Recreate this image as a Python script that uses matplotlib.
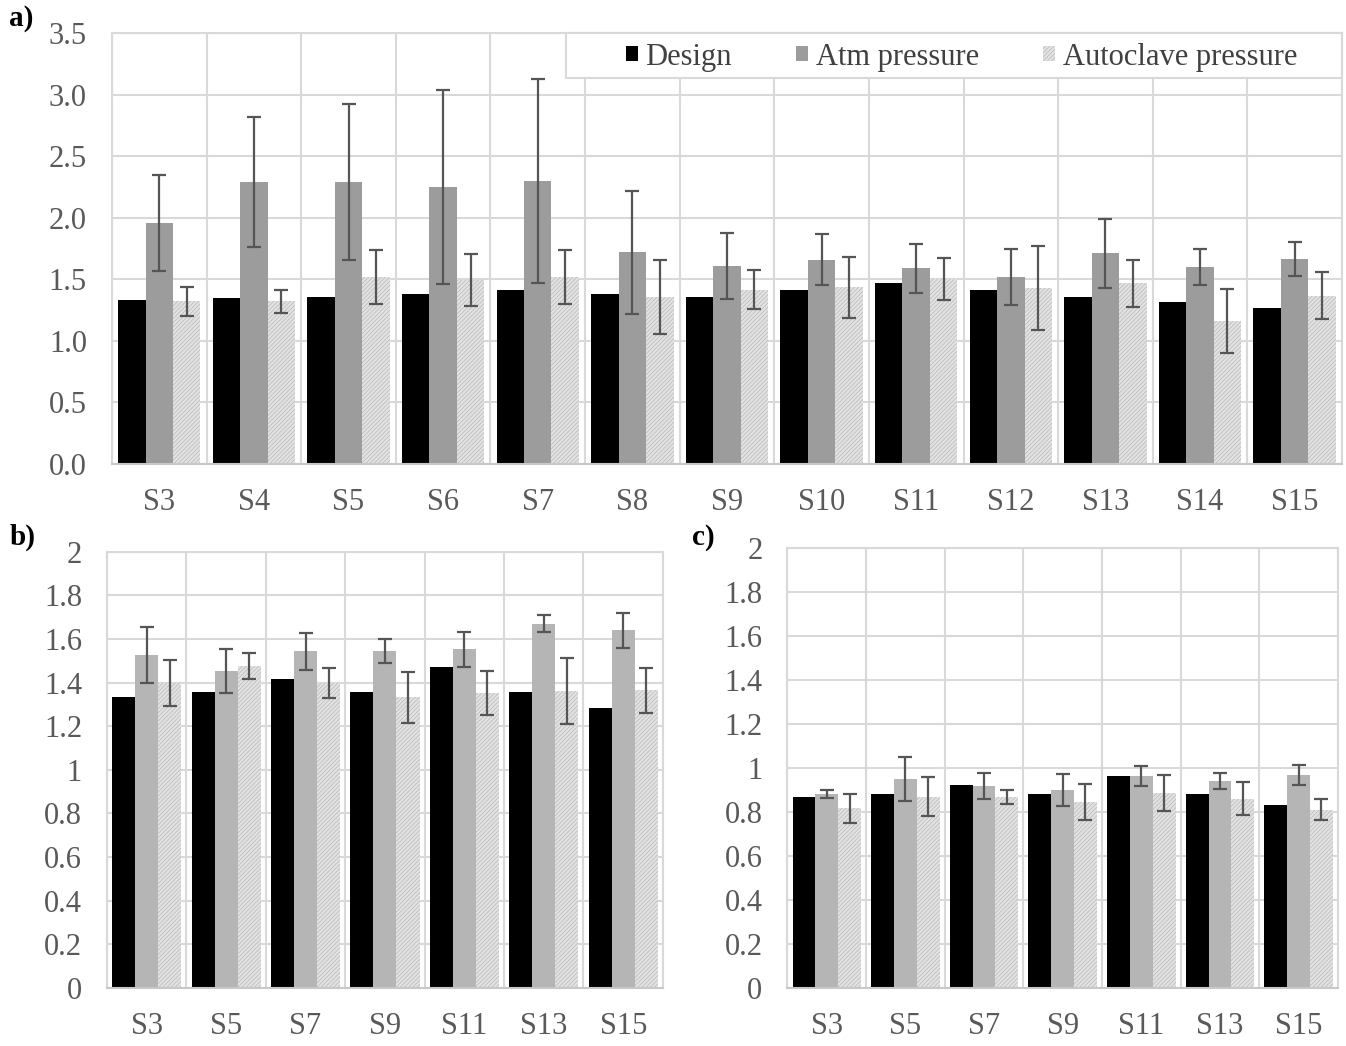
import numpy as np
import matplotlib
matplotlib.use("Agg")
import matplotlib.pyplot as plt
from matplotlib.ticker import MultipleLocator, FixedLocator
from matplotlib.patches import Rectangle

plt.rcParams["font.family"] = ["Liberation Serif", "DejaVu Serif"]
plt.rcParams["hatch.linewidth"] = 0.6

# panel a data
cats_a = ["S3", "S4", "S5", "S6", "S7", "S8", "S9", "S10", "S11", "S12", "S13", "S14", "S15"]
design_a = [1.33, 1.345, 1.357, 1.38, 1.41, 1.38, 1.353, 1.413, 1.47, 1.41, 1.353, 1.313, 1.27]
atm_a = [1.955, 2.29, 2.29, 2.25, 2.30, 1.72, 1.61, 1.66, 1.59, 1.52, 1.71, 1.60, 1.667]
atm_a_err = [0.39, 0.53, 0.63, 0.79, 0.83, 0.50, 0.27, 0.21, 0.20, 0.23, 0.28, 0.15, 0.14]
auto_a = [1.32, 1.32, 1.52, 1.495, 1.52, 1.357, 1.416, 1.435, 1.50, 1.432, 1.468, 1.164, 1.367]
auto_a_err = [0.12, 0.09, 0.22, 0.21, 0.22, 0.30, 0.16, 0.25, 0.17, 0.34, 0.19, 0.26, 0.19]

# panel b data
cats_b = ["S3", "S5", "S7", "S9", "S11", "S13", "S15"]
design_b = [1.336, 1.359, 1.416, 1.359, 1.471, 1.359, 1.283]
atm_b = [1.527, 1.453, 1.544, 1.544, 1.552, 1.671, 1.639]
atm_b_err = [0.13, 0.10, 0.085, 0.055, 0.08, 0.04, 0.08]
auto_b = [1.399, 1.476, 1.399, 1.332, 1.353, 1.361, 1.364]
auto_b_err = [0.105, 0.06, 0.07, 0.115, 0.10, 0.15, 0.105]

# panel c data
cats_c = ["S3", "S5", "S7", "S9", "S11", "S13", "S15"]
design_c = [0.868, 0.883, 0.923, 0.883, 0.961, 0.883, 0.833]
atm_c = [0.882, 0.95, 0.917, 0.898, 0.961, 0.939, 0.967]
atm_c_err = [0.018, 0.10, 0.06, 0.073, 0.045, 0.035, 0.046]
auto_c = [0.817, 0.868, 0.868, 0.844, 0.886, 0.859, 0.809]
auto_c_err = [0.066, 0.088, 0.033, 0.08, 0.083, 0.075, 0.048]

grid_col = "#d9d9d9"
tick_col = "#595959"
err_col = "#555555"
fs = 22


def draw(ax, cats, design, atm, atm_err, auto, auto_err, atm_col, ymax, ystep, fmt):
    x = np.arange(len(cats))
    w = 0.29
    ekw = dict(ecolor=err_col, elinewidth=1.6, capsize=5, capthick=1.6)
    ax.bar(x - w, design, w, color="black", zorder=2, label="Design")
    ax.bar(x, atm, w, color=atm_col, yerr=atm_err, error_kw=ekw, zorder=2,
           label="Atm pressure")
    ax.bar(x + w, auto, w, color="#e3e3e3", edgecolor="#bdbdbd", linewidth=0,
           hatch="////////", yerr=auto_err, error_kw=ekw, zorder=2,
           label="Autoclave pressure")
    ax.set_xlim(-0.5, len(cats) - 0.5)
    ax.set_ylim(0, ymax)
    ax.set_xticks(x)
    ax.set_xticklabels(cats)
    ax.xaxis.set_minor_locator(FixedLocator(np.arange(len(cats) + 1) - 0.5))
    ax.yaxis.set_major_locator(MultipleLocator(ystep))
    ax.yaxis.set_major_formatter(fmt)
    ax.grid(True, which="major", axis="y", color=grid_col, lw=1.5, zorder=0)
    ax.grid(True, which="minor", axis="x", color=grid_col, lw=1.5, zorder=0)
    ax.set_axisbelow(True)
    for s in ax.spines.values():
        s.set_color(grid_col)
        s.set_linewidth(1.5)
    ax.spines["bottom"].set_color("#c8c8c8")
    ax.tick_params(axis="both", which="both", length=0, labelsize=fs,
                   labelcolor=tick_col)
    ax.tick_params(axis="x", pad=17)
    ax.tick_params(axis="y", pad=18)


fig = plt.figure(figsize=(13.46, 10.46), dpi=100)

ax_a = fig.add_axes([0.0832, 0.5564, 0.9138, 0.412])
draw(ax_a, cats_a, design_a, atm_a, atm_a_err, auto_a, auto_a_err,
     "#9c9c9c", 3.5, 0.5, lambda v, p: f"{v:.1f}")

# legend box like the reference (white panel in the top right corner)
ax_a.add_patch(Rectangle((0.369, 0.8956), 0.631, 0.1044, transform=ax_a.transAxes,
                         facecolor="white", edgecolor=grid_col, lw=1.5,
                         zorder=5, clip_on=False))
leg = ax_a.legend(loc="center", ncol=3, fontsize=fs, frameon=False,
                  handlelength=0.4, handleheight=0.4, handletextpad=0.25,
                  columnspacing=2.1, borderpad=0, borderaxespad=0,
                  bbox_to_anchor=(0.6907, 0.944))
leg.set_zorder(6)
for t in leg.get_texts():
    t.set_color("#404040")

ax_b = fig.add_axes([0.0795, 0.0555, 0.413, 0.417])
draw(ax_b, cats_b, design_b, atm_b, atm_b_err, auto_b, auto_b_err,
     "#b5b5b5", 2.0, 0.2, lambda v, p: f"{v:g}")

ax_c = fig.add_axes([0.585, 0.0555, 0.409, 0.421])
draw(ax_c, cats_c, design_c, atm_c, atm_c_err, auto_c, auto_c_err,
     "#b5b5b5", 2.0, 0.2, lambda v, p: f"{v:g}")

fig.text(0.007, 0.969, "a)", fontsize=21, fontweight="bold", va="bottom")
fig.text(0.007, 0.473, "b)", fontsize=21, fontweight="bold", va="bottom")
fig.text(0.514, 0.473, "c)", fontsize=21, fontweight="bold", va="bottom")

fig.savefig("out.png", dpi=100)
